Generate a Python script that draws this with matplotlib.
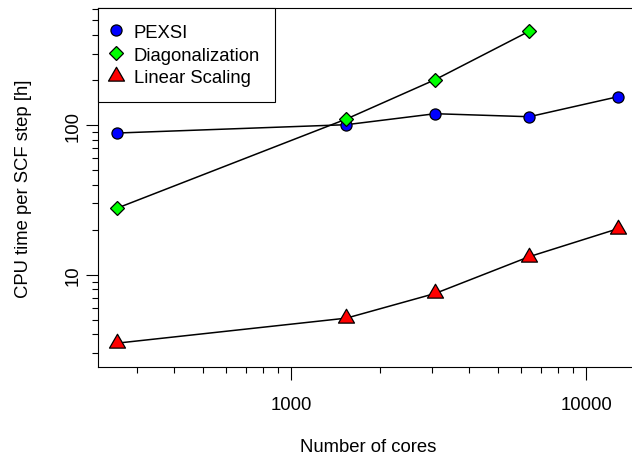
import matplotlib.pyplot as plt
from matplotlib.path import Path
from matplotlib.ticker import LogLocator, NullFormatter, FixedLocator, FixedFormatter

plt.rcParams['font.family'] = ['Liberation Sans', 'DejaVu Sans']

## data
cores = [256, 1536, 3072, 6400, 12800]
pexsi = [88.4, 100.5, 119, 113.6, 154.6]
diag_cores = [256, 1536, 3072, 6400]
diag = [27.8, 109.7, 201, 423]
linear = [3.49, 5.13, 7.50, 13.2, 20.3]

x_ticks = [1000, 10000]
x_labels = ['1000', '10000']
y_ticks = [10, 100]
y_labels = ['10', '100']

fs = 13.3

## triangle centred on its centroid, like R's pch 24
tri = Path([(0, 1), (-0.866, -0.5), (0.866, -0.5), (0, 1)],
           [Path.MOVETO, Path.LINETO, Path.LINETO, Path.CLOSEPOLY])

fig = plt.figure(figsize=(6.32, 4.56), dpi=100)
ax = fig.add_axes([0.1551, 0.1936, 0.8544, 0.786])

ax.plot(cores, pexsi, color='black', lw=1.1, marker='o', ms=8,
        mfc='#0000FF', mec='black', mew=0.9, label='PEXSI')
ax.plot(diag_cores, diag, color='black', lw=1.1, marker='D', ms=6.8,
        mfc='#00FF00', mec='black', mew=0.9, label='Diagonalization')
ax.plot(cores, linear, color='black', lw=1.1, marker=tri, ms=13.3,
        mfc='#FF0000', mec='black', mew=0.9, label='Linear Scaling')

ax.set_xscale('log')
ax.set_yscale('log')
ax.set_xlim(221, 14960)
ax.set_ylim(2.43, 602)

ax.xaxis.set_major_locator(FixedLocator(x_ticks))
ax.xaxis.set_major_formatter(FixedFormatter(x_labels))
ax.xaxis.set_minor_locator(LogLocator(base=10, subs=range(2, 10)))
ax.xaxis.set_minor_formatter(NullFormatter())
ax.yaxis.set_major_locator(FixedLocator(y_ticks))
ax.yaxis.set_major_formatter(FixedFormatter(y_labels))
ax.yaxis.set_minor_locator(LogLocator(base=10, subs=range(2, 10)))
ax.yaxis.set_minor_formatter(NullFormatter())

ax.tick_params(which='major', direction='out', length=9, width=0.8,
               labelsize=fs, pad=12)
ax.tick_params(which='minor', direction='out', length=4.3, width=0.8)
ax.tick_params(axis='y', which='major', pad=3)
for lab in ax.get_yticklabels():
    lab.set_rotation(90)
    lab.set_va('center')

for s in ax.spines.values():
    s.set_linewidth(0.8)

ax.set_xlabel('Number of cores', fontsize=fs, labelpad=18.3)
ax.set_ylabel('CPU time per SCF step [h]', fontsize=fs, labelpad=23.5)

leg = ax.legend(loc='upper left', fontsize=fs, frameon=True, fancybox=False,
                edgecolor='black', framealpha=1, borderaxespad=0,
                borderpad=0.83, labelspacing=0.32, handlelength=0.3,
                handletextpad=0.8)
leg.get_frame().set_linewidth(0.8)

plt.savefig('out.png', dpi=100)
plt.close()
